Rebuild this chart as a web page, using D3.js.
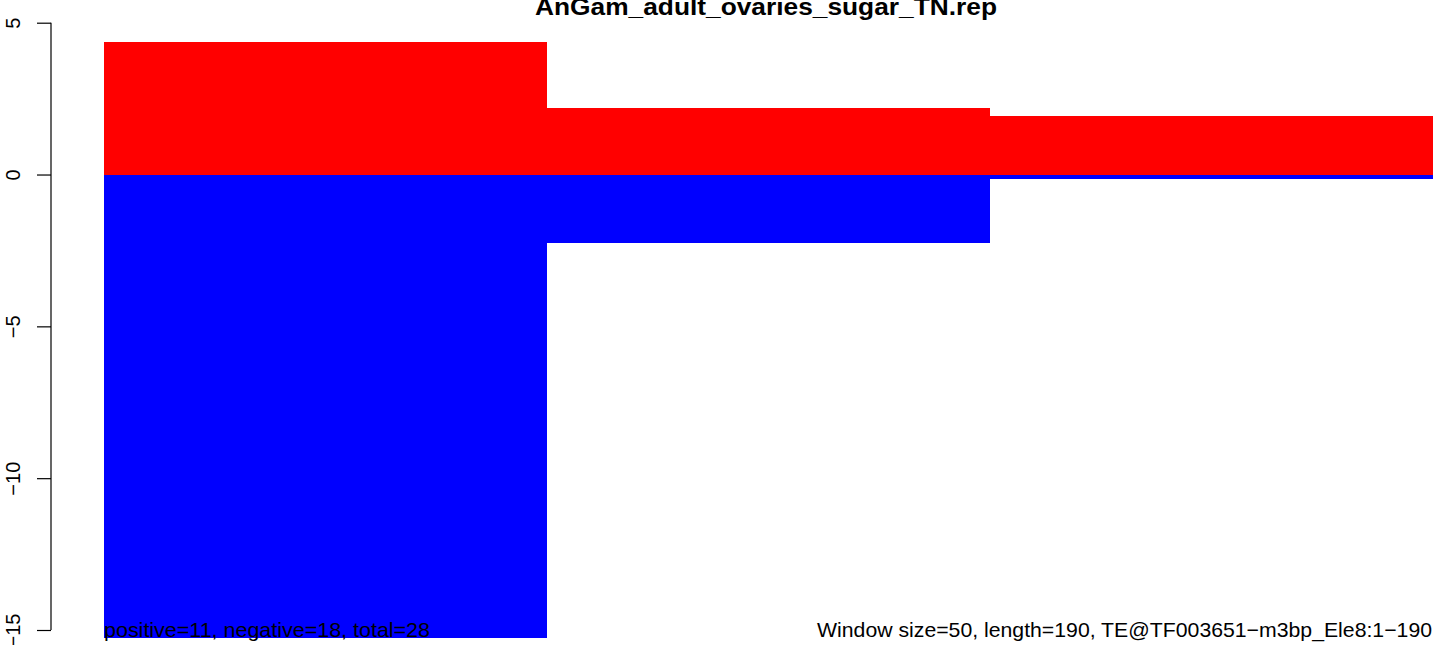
<!DOCTYPE html>
<html><head><meta charset="utf-8">
<script src="https://cdn.jsdelivr.net/npm/d3@7"></script>
<style>body{margin:0;background:#fff}svg{display:block}text{font-family:"Liberation Sans",Arial,sans-serif}</style>
</head><body>
<svg id="c" width="1441" height="645"></svg>
<script>
const windows = ["1-50", "51-100", "101-150"];
const positiveValues = [4.37, 2.2, 1.94];
const negativeValues = [-15.25, -2.24, -0.16];
const yTicks = [5, 0, -5, -10, -15];
const title = "AnGam_adult_ovaries_sugar_TN.rep";
const leftNote = "positive=11, negative=18, total=28";
const rightNote = "Window size=50, length=190, TE@TF003651\u2212m3bp_Ele8:1\u2212190";

const svg = d3.select("#c");
const x = d3.scaleBand().domain(windows).range([104, 1432]).padding(0);
const y = d3.scaleLinear().domain([-15, 5]).range([630, 22.7]);

svg.append("g").selectAll("rect.pos").data(windows).join("rect")
  .attr("x", d => x(d)).attr("width", x.bandwidth() + 0.5)
  .attr("y", (d,i) => y(positiveValues[i])).attr("height", (d,i) => y(0) - y(positiveValues[i]))
  .attr("fill", "#ff0000").attr("shape-rendering", "crispEdges");
svg.append("g").selectAll("rect.neg").data(windows).join("rect")
  .attr("x", d => x(d)).attr("width", x.bandwidth() + 0.5)
  .attr("y", y(0)).attr("height", (d,i) => y(negativeValues[i]) - y(0))
  .attr("fill", "#0000ff").attr("shape-rendering", "crispEdges");

const ax = svg.append("g").attr("transform", "translate(51,0)")
  .call(d3.axisLeft(y).tickValues(yTicks).tickSize(14).tickFormat(d => d3.format("")(d).replace("-", "\u2212")));
ax.select(".domain").attr("stroke", "#000").attr("stroke-width", 1.2).attr("d", `M0,${y(5)}V${y(-15)}`);
ax.selectAll(".tick line").attr("stroke", "#000").attr("stroke-width", 1.2);
ax.selectAll(".tick text").attr("font-size", 20).attr("fill", "#000")
  .attr("font-family", '"Liberation Sans",Arial,sans-serif')
  .attr("x", null).attr("dy", null)
  .attr("text-anchor", "middle")
  .attr("transform", "translate(-38,0) rotate(-90)")
  .attr("y", 0).attr("dy", "0.35em");

svg.append("text").attr("x", 766).attr("y", 15).attr("text-anchor", "middle")
  .attr("font-weight", "bold").attr("font-size", 23)
  .attr("textLength", 462).attr("lengthAdjust", "spacingAndGlyphs").text(title);
svg.append("text").attr("x", 104).attr("y", 637).attr("font-size", 21)
  .attr("textLength", 326).attr("lengthAdjust", "spacingAndGlyphs").text(leftNote);
svg.append("text").attr("x", 1432).attr("y", 637).attr("text-anchor", "end").attr("font-size", 21)
  .attr("textLength", 615).attr("lengthAdjust", "spacingAndGlyphs").text(rightNote);
</script>
</body></html>
